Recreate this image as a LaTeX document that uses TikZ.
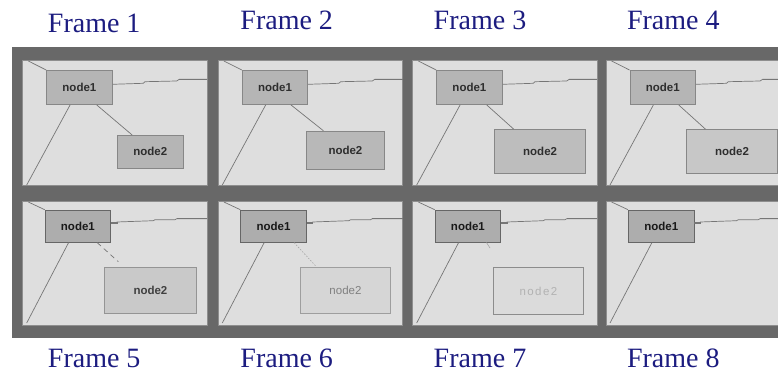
\documentclass[tikz,border=0pt]{standalone}
\usepackage{fontspec}
\setmainfont{Liberation Serif}
\newfontfamily\nodefont{Liberation Sans}
\usetikzlibrary{calc}
\definecolor{band}{HTML}{686868}
\definecolor{panel}{HTML}{DEDEDE}
\definecolor{panelborder}{HTML}{8E8E8E}
\definecolor{navy}{HTML}{1C1C80}
\definecolor{nborder}{HTML}{878787}
\definecolor{wire}{HTML}{767676}
\colorlet{B4B4B4}{black!29}
\colorlet{AEAEAE}{black!32}
\colorlet{B8B8B8}{black!28}
\colorlet{BCBCBC}{black!26}
\colorlet{C6C6C6}{black!22}
\colorlet{CACACA}{black!21}
\colorlet{D6D6D6}{black!16}
\colorlet{DADADA}{black!14}
\tikzset{
  framelabel/.style={font=\fontsize{28}{30}\selectfont, text=navy, inner sep=0, anchor=base},
  panelbox/.style={fill=panel, draw=panelborder, line width=0.8pt},
  nodebox/.style={draw=nborder, line width=0.9pt, fill=#1, inner sep=0, anchor=north west,
    font=\nodefont\bfseries\fontsize{11.5}{12}\selectfont, text=black!82},
  nodebox/.default={B4B4B4},
  wire/.style={draw=wire, line width=0.7pt},
}
% helper: panel with node1 and its three fixed wires
\newcommand{\toppanel}[1]{%
  \filldraw[panelbox] (0,0) rectangle (184.5,125);
  \node[nodebox=B4B4B4, minimum width=65.5pt, minimum height=34pt] (n1#1) at (23.5,9.3) {node1};
  \coordinate (c#1) at (5.6,0.3);
  \coordinate (l#1) at (4,124.3);
  \coordinate (r#1) at (184.5,18.6);
  \draw[wire] (c#1) -- (n1#1.north west);
  \draw[wire] ($(n1#1.south west)!0.36!(n1#1.south east)$) -- (l#1);
  \draw[wire] ($(n1#1.north east)+(0,14.3)$) -- (120.6,22.6) -- (122.3,21) -- (154,20.3) -- (156.6,18.6) -- (r#1);
  \draw[wire, line width=1.2pt] (156.6,18.6) -- (r#1);
}
\newcommand{\botpanel}[1]{%
  \filldraw[panelbox] (0,0) rectangle (184.5,123.3);
  \node[nodebox=AEAEAE, draw=black!60, minimum width=65.5pt, minimum height=32pt, text=black!90] (n1#1) at (22,8) {node1};
  \coordinate (c#1) at (5.6,0.3);
  \coordinate (l#1) at (4,121.3);
  \coordinate (r#1) at (184.5,17);
  \draw[wire] (c#1) -- (n1#1.north west);
  \draw[wire] ($(n1#1.south west)!0.36!(n1#1.south east)$) -- (l#1);
  \draw[wire, line width=1.6pt] ($(n1#1.north east)+(0,13.3)$) -- ++(6.5,0);
  \draw[wire] (94,20.3) -- (130.6,19) -- (132.3,18) -- (152.3,18) -- (154,17) -- (r#1);
  \draw[wire, line width=1.2pt] (154,17) -- (r#1);
}
\begin{document}
\begin{tikzpicture}[x=1pt,y=-1pt]
\useasboundingbox (0,0) rectangle (778,374);
\clip (0,0) rectangle (778,374);
\fill[white] (0,0) rectangle (778,374);
\fill[band] (12,46.7) rectangle (790,337.7);

% labels
\node[framelabel] (f1) at (94.2,33) {Frame 1};
\node[framelabel] (f2) at (286.7,30) {Frame 2};
\node[framelabel] (f3) at (480,30) {Frame 3};
\node[framelabel] (f4) at (673.3,30) {Frame 4};
\node[framelabel] (f5) at (94.2,367.8) {Frame 5};
\node[framelabel] (f6) at (286.7,367.8) {Frame 6};
\node[framelabel] (f7) at (480,367.8) {Frame 7};
\node[framelabel] (f8) at (673.3,367.8) {Frame 8};

% Frame 1
\begin{scope}[shift={(22.7,60.7)}]
  \toppanel{a}
  \node[nodebox=B4B4B4, minimum width=66.3pt, minimum height=32.7pt] (n2a) at (94,74.3) {node2};
  \draw[wire] ($(n1a.south west)!0.76!(n1a.south east)$) -- ($(n2a.north west)!0.23!(n2a.north east)$);
\end{scope}
% Frame 2
\begin{scope}[shift={(218.3,60.7)}]
  \toppanel{b}
  \node[nodebox=B8B8B8, minimum width=78pt, minimum height=38.6pt] (n2b) at (87.7,70) {node2};
  \draw[wire] ($(n1b.south west)!0.74!(n1b.south east)$) -- ($(n2b.north west)!0.22!(n2b.north east)$);
\end{scope}
% Frame 3
\begin{scope}[shift={(412.7,60.7)}]
  \toppanel{c}
  \node[nodebox=BCBCBC, minimum width=90.7pt, minimum height=43.7pt] (n2c) at (81.6,68.3) {node2};
  \draw[wire] ($(n1c.south west)!0.76!(n1c.south east)$) -- ($(n2c.north west)!0.21!(n2c.north east)$);
\end{scope}
% Frame 4
\begin{scope}[shift={(606,60.7)}]
  \toppanel{d}
  \node[nodebox=C6C6C6, minimum width=91pt, minimum height=43.7pt] (n2d) at (80,68.3) {node2};
  \draw[wire] ($(n1d.south west)!0.74!(n1d.south east)$) -- ($(n2d.north west)!0.21!(n2d.north east)$);
\end{scope}
% Frame 5
\begin{scope}[shift={(22.7,201.7)}]
  \botpanel{e}
  \node[nodebox=CACACA, draw=black!42, minimum width=91.4pt, minimum height=46.6pt, text=black!75] (n2e) at (81.6,65) {node2};
  \coordinate (ee) at (95.6,60);
  \draw[wire, dash pattern=on 5pt off 4pt] ($(n1e.south west)!0.79!(n1e.south east)$) -- (ee);
\end{scope}
% Frame 6
\begin{scope}[shift={(218.3,201.7)}]
  \botpanel{f}
  \node[nodebox=D6D6D6, draw=black!38, minimum width=90pt, minimum height=46.6pt, text=black!50,
        font=\nodefont\fontsize{11.5}{12}\selectfont] (n2f) at (81.7,65) {node2};
  \draw[draw=black!35, line width=0.6pt, dash pattern=on 1.5pt off 1.5pt]
    ($(n1f.south west)!0.81!(n1f.south east)$) -- ($(n2f.north west)!0.18!(n2f.north east)$);
\end{scope}
% Frame 7
\begin{scope}[shift={(412.7,201.7)}]
  \botpanel{g}
  \node[nodebox=DADADA, draw=black!45, minimum width=90.6pt, minimum height=46.7pt, text=black!30,
        font=\nodefont\addfontfeature{LetterSpace=12}\fontsize{11.5}{12}\selectfont] (n2g) at (80,65.6) {node2};
  \coordinate (eg) at (77.3,46.3);
  \draw[draw=black!35, line width=0.6pt] ($(n1g.south west)!0.78!(n1g.south east)$) -- (eg);
\end{scope}
% Frame 8
\begin{scope}[shift={(606,201.7)}]
  \botpanel{h}
\end{scope}
\end{tikzpicture}
\end{document}
